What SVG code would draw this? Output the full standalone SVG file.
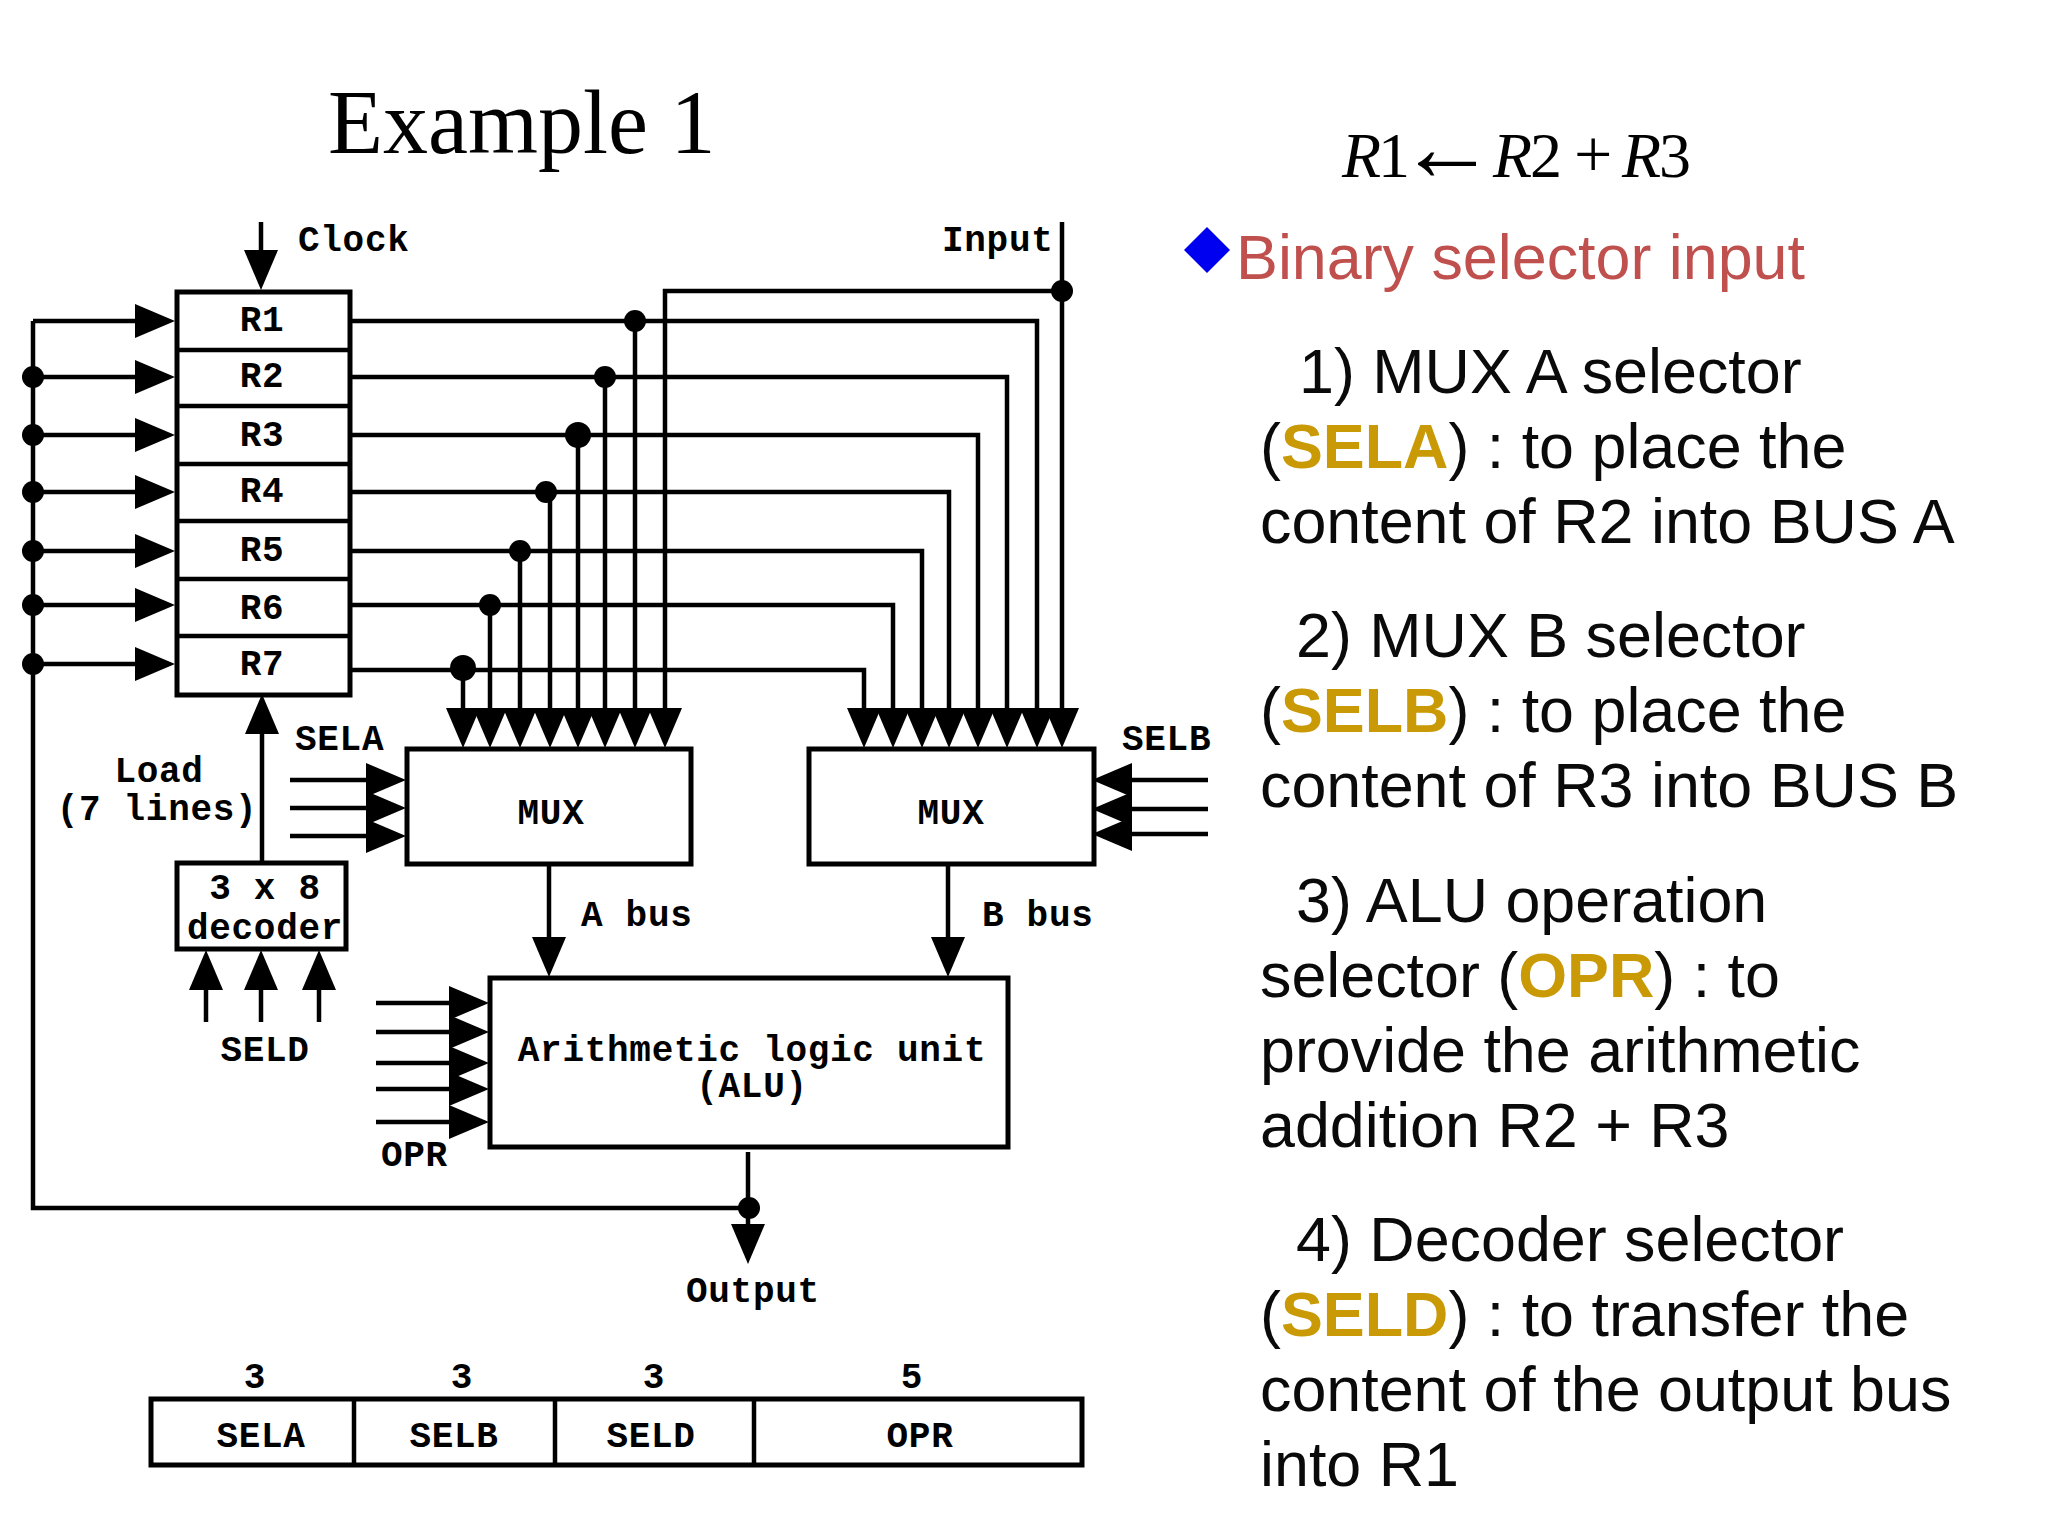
<svg xmlns="http://www.w3.org/2000/svg" width="2048" height="1536" viewBox="0 0 2048 1536">
<style>
text{font-family:"Liberation Sans",Arial,sans-serif}
.m{font-family:"Liberation Mono","Courier New",monospace;font-size:36px;font-weight:700;letter-spacing:0.7px;fill:#000}
.c{text-anchor:middle}
.b{fill:#fff;stroke:#000;stroke-width:5}
.w{fill:none;stroke:#000;stroke-width:4.5}
.a{fill:none;stroke:#000;stroke-width:4.5;marker-end:url(#ah)}
.d{fill:#000}
.t{font-size:62.8px;fill:#0a0a0a}
.g{fill:#C99A06;font-weight:700}
.s{font-family:"Liberation Serif","Times New Roman",serif;font-size:64px;fill:#000}
.i{font-style:italic}
</style>
<defs>
<marker id="ah" markerUnits="userSpaceOnUse" markerWidth="40" markerHeight="34" viewBox="0 0 40 34" refX="30" refY="17" orient="auto"><path d="M0 0L40 17L0 34Z" fill="#000"/></marker>
</defs>
<rect width="2048" height="1536" fill="#fff"/>
<g id="title"><text x="328" y="153" font-size="90" style="font-family:'Liberation Serif','Times New Roman',serif" fill="#000">Example 1</text></g>
<g id="formula">
<text class="s" y="177"><tspan class="i" x="1342">R</tspan><tspan x="1378">1</tspan><tspan x="1398" y="180" style="font-size:98px">←</tspan><tspan class="i" x="1493" y="177">R</tspan><tspan x="1530">2</tspan><tspan x="1574" style="font-size:68px">+</tspan><tspan class="i" x="1622">R</tspan><tspan x="1659">3</tspan></text>
</g>
<g id="connectors">
<path class="a" d="M261 222V280"/>
<path class="w" d="M748 1152V1208H33V321"/>
<path class="a" d="M33 321H165"/><path class="a" d="M33 377H165"/><path class="a" d="M33 435H165"/><path class="a" d="M33 492H165"/><path class="a" d="M33 551H165"/><path class="a" d="M33 605H165"/><path class="a" d="M33 664H165"/>
<path class="a" d="M350 321H1037V738"/><path class="a" d="M350 377H1007V738"/><path class="a" d="M350 435H978V738"/><path class="a" d="M350 492H949V738"/><path class="a" d="M350 551H922V738"/><path class="a" d="M350 605H893V738"/><path class="a" d="M350 670H864V738"/>
<path class="a" d="M1062 222V738"/><path class="a" d="M1062 291H665V738"/>
<path class="a" d="M635 321V738"/><path class="a" d="M605 377V738"/><path class="a" d="M578 435V738"/><path class="a" d="M550 492V738"/><path class="a" d="M520 551V738"/><path class="a" d="M490 605V738"/><path class="a" d="M463 664V738"/>
<path class="a" d="M290 780H396"/><path class="a" d="M290 808H396"/><path class="a" d="M290 836H396"/>
<path class="a" d="M1208 780H1102"/><path class="a" d="M1208 809H1102"/><path class="a" d="M1208 834H1102"/>
<path class="a" d="M262 862V704"/>
<path class="a" d="M206 1022V960"/><path class="a" d="M261 1022V960"/><path class="a" d="M319 1022V960"/>
<path class="a" d="M549 864V967"/><path class="a" d="M948 864V967"/>
<path class="a" d="M376 1003H479"/><path class="a" d="M376 1032H479"/><path class="a" d="M376 1063H479"/><path class="a" d="M376 1089H479"/><path class="a" d="M376 1122H479"/>
<path class="a" d="M748 1208V1254"/>
<circle class="d" cx="33" cy="377" r="11"/><circle class="d" cx="33" cy="435" r="11"/><circle class="d" cx="33" cy="492" r="11"/><circle class="d" cx="33" cy="551" r="11"/><circle class="d" cx="33" cy="605" r="11"/><circle class="d" cx="33" cy="664" r="11"/>
<circle class="d" cx="635" cy="321" r="11"/><circle class="d" cx="605" cy="377" r="11"/><circle class="d" cx="578" cy="435" r="13"/><circle class="d" cx="546" cy="492" r="11"/><circle class="d" cx="520" cy="551" r="11"/><circle class="d" cx="490" cy="605" r="11"/><circle class="d" cx="463" cy="668" r="13"/>
<circle class="d" cx="1062" cy="291" r="11"/><circle class="d" cx="749" cy="1208" r="11"/>
</g>
<g id="registers">
<rect class="b" x="177" y="292" width="173" height="403"/>
<path class="w" d="M177 350H350M177 406H350M177 464H350M177 521H350M177 579H350M177 636H350"/>
<g id="r1"><text class="m c" x="262" y="331">R1</text></g>
<g id="r2"><text class="m c" x="262" y="387">R2</text></g>
<g id="r3"><text class="m c" x="262" y="446">R3</text></g>
<g id="r4"><text class="m c" x="262" y="502">R4</text></g>
<g id="r5"><text class="m c" x="262" y="561">R5</text></g>
<g id="r6"><text class="m c" x="262" y="619">R6</text></g>
<g id="r7"><text class="m c" x="262" y="675">R7</text></g>
</g>
<g id="mux-a"><rect class="b" x="407" y="749" width="284" height="115"/><text class="m c" x="551" y="824">MUX</text></g>
<g id="mux-b"><rect class="b" x="809" y="749" width="285" height="115"/><text class="m c" x="951" y="824">MUX</text></g>
<g id="decoder"><rect class="b" x="177" y="863" width="169" height="86"/><text class="m c" x="265" y="899">3 x 8</text><text class="m c" x="265" y="939">decoder</text></g>
<g id="alu"><rect class="b" x="490" y="978" width="518" height="169"/><text class="m c"><tspan x="752" y="1061">Arithmetic logic unit</tspan><tspan x="752" y="1097">(ALU)</tspan></text></g>
<g id="labels">
<text class="m" x="298" y="251">Clock</text>
<text class="m" x="942" y="251">Input</text>
<text class="m" x="295" y="750">SELA</text>
<text class="m" x="1122" y="750">SELB</text>
<text class="m c" x="159" y="782">Load</text>
<text class="m c" x="157" y="820">(7 lines)</text>
<text class="m" x="581" y="926">A bus</text>
<text class="m" x="982" y="926">B bus</text>
<text class="m c" x="265" y="1061">SELD</text>
<text class="m" x="381" y="1166">OPR</text>
<text class="m" x="686" y="1302">Output</text>
</g>
<g id="control-word">
<rect class="b" x="151" y="1399" width="931" height="66"/>
<path class="w" d="M354 1399V1465M555 1399V1465M754 1399V1465"/>
<text class="m c" x="255" y="1388">3</text><text class="m c" x="462" y="1388">3</text><text class="m c" x="654" y="1388">3</text><text class="m c" x="912" y="1388">5</text>
<text class="m c" x="261" y="1447">SELA</text><text class="m c" x="454" y="1447">SELB</text><text class="m c" x="651" y="1447">SELD</text><text class="m c" x="920" y="1447">OPR</text>
</g>
<g id="notes">
<path d="M1207 227L1230 250L1207 273L1184 250Z" fill="#0000F0"/>
<text x="1236" y="279" font-size="62.8" fill="#C0504D">Binary selector input</text>
<text class="t" x="1299" y="393">1) MUX A selector</text>
<text class="t" x="1260" y="468">(<tspan class="g">SELA</tspan>) : to place the</text>
<text class="t" x="1260" y="543">content of R2 into BUS A</text>
<text class="t" x="1296" y="657">2) MUX B selector</text>
<text class="t" x="1260" y="732">(<tspan class="g">SELB</tspan>) : to place the</text>
<text class="t" x="1260" y="807">content of R3 into BUS B</text>
<text class="t" x="1296" y="922">3) ALU operation</text>
<text class="t" x="1260" y="997">selector (<tspan class="g">OPR</tspan>) : to</text>
<text class="t" x="1260" y="1072">provide the arithmetic</text>
<text class="t" x="1260" y="1147">addition R2 + R3</text>
<text class="t" x="1296" y="1261">4) Decoder selector</text>
<text class="t" x="1260" y="1336">(<tspan class="g">SELD</tspan>) : to transfer the</text>
<text class="t" x="1260" y="1411">content of the output bus</text>
<text class="t" x="1260" y="1486">into R1</text>
</g>
</svg>
